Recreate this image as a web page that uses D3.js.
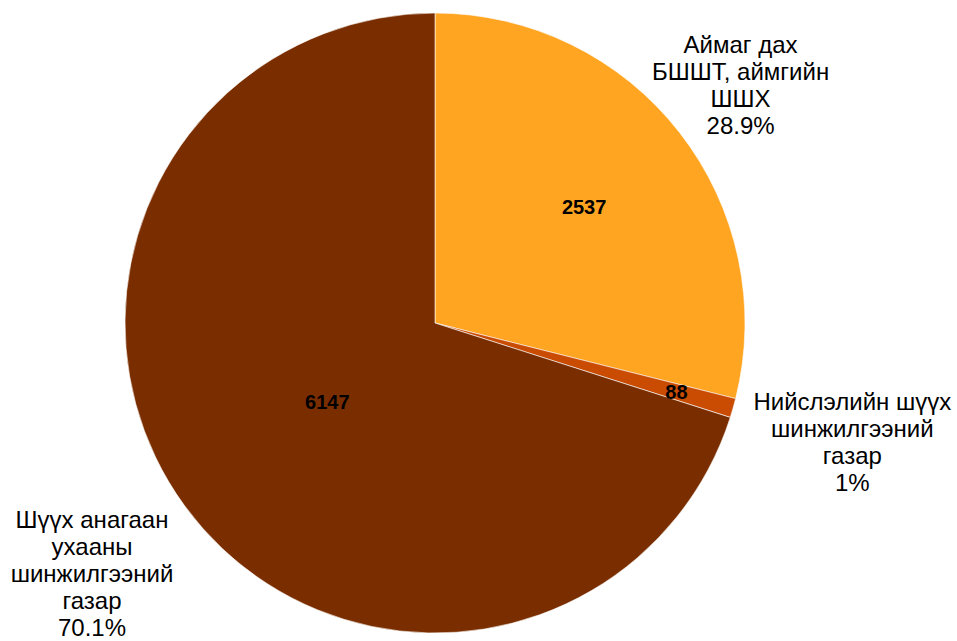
<!DOCTYPE html>
<html><head><meta charset="utf-8">
<script src="https://cdn.jsdelivr.net/npm/d3@7"></script>
<style>body{margin:0;background:#fff}svg{display:block}</style>
</head><body>
<svg id="chart" width="957" height="641"></svg>
<script>
const categories = [
  ["Аймаг дах", "БШШТ, аймгийн", "ШШХ"],
  ["Нийслэлийн шүүх", "шинжилгээний", "газар"],
  ["Шүүх анагаан", "ухааны", "шинжилгээний", "газар"]
];
const values = [2537, 88, 6147];
const percentLabels = ["28.9%", "1%", "70.1%"];
const colors = ["#FFA521", "#C94C02", "#7A2E00"];

const W = 957, H = 641;
const cx = 435, cy = 323, R = 310;
const valueRadius = [0.61, 0.81, 0.43];
const outerRadius = [1.25, 1.40, 1.37];

const svg = d3.select("#chart");
const g = svg.append("g").attr("transform", `translate(${cx},${cy})`);

const pie = d3.pie().sort(null).value(d => d)(values);
const arc = d3.arc().innerRadius(0).outerRadius(R);

g.selectAll("path.slice").data(pie).enter().append("path")
  .attr("class", "slice")
  .attr("d", arc)
  .attr("fill", (d, i) => colors[i])
  .attr("stroke", "#fff").attr("stroke-width", 0.6);

function polar(a, r) { return [Math.sin(a) * r, -Math.cos(a) * r]; }

// value labels
g.selectAll("text.val").data(pie).enter().append("text")
  .attr("class", "val")
  .attr("x", (d, i) => polar((d.startAngle + d.endAngle) / 2, R * valueRadius[i])[0])
  .attr("y", (d, i) => polar((d.startAngle + d.endAngle) / 2, R * valueRadius[i])[1])
  .attr("text-anchor", "middle").attr("dominant-baseline", "central")
  .attr("font-family", "Liberation Sans, Arial, sans-serif")
  .attr("font-weight", "bold").attr("font-size", 20).attr("fill", "#000")
  .text(d => d.data);

// category labels
const lh = 27;
pie.forEach((d, i) => {
  const lines = categories[i].concat([percentLabels[i]]);
  const [x, y] = polar((d.startAngle + d.endAngle) / 2, R * outerRadius[i]);
  const t = g.append("text")
    .attr("text-anchor", "middle")
    .attr("font-family", "Liberation Sans, Arial, sans-serif")
    .attr("font-size", 24).attr("fill", "#000");
  const y0 = y - (lines.length - 1) * lh / 2;
  lines.forEach((l, j) => {
    t.append("tspan").attr("x", x).attr("y", y0 + j * lh)
      .attr("dominant-baseline", "central").text(l);
  });
});
</script>
</body></html>
